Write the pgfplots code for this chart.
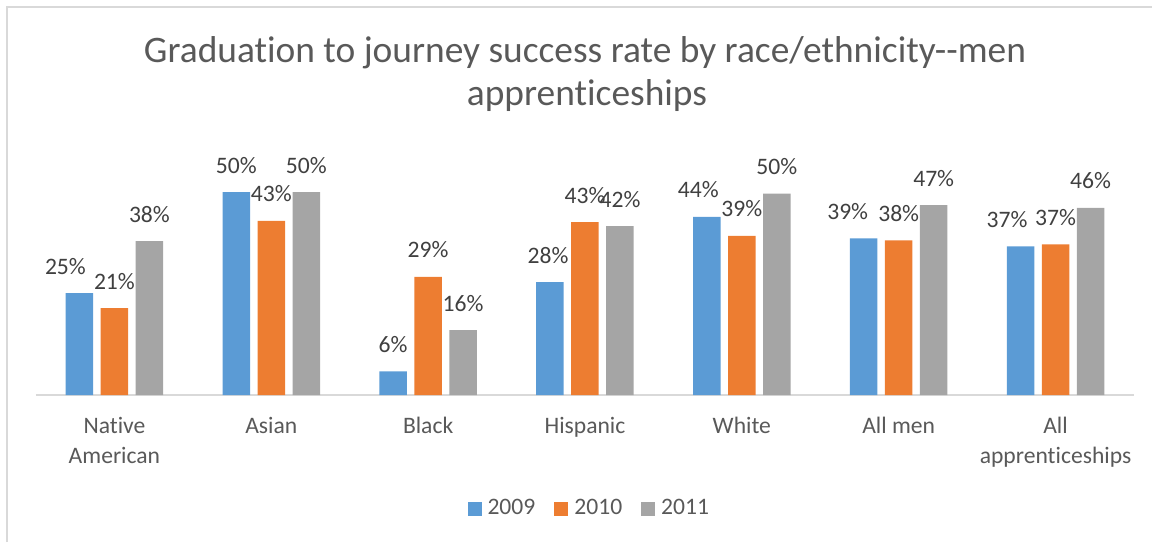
\documentclass[border=0pt]{standalone}
\usepackage{pgfplots}
\pgfplotsset{compat=1.18}
\usepackage{pgfplotstable}
\usepackage{fontspec}
\setmainfont{Carlito}[Ligatures={TeX,NoCommon}]
\definecolor{c09}{HTML}{5B9BD5}
\definecolor{c10}{HTML}{ED7D31}
\definecolor{c11}{HTML}{A5A5A5}
\definecolor{txt}{HTML}{595959}
\definecolor{lbl}{HTML}{404040}
\definecolor{brd}{HTML}{D9D9D9}

\pgfplotstableread{
x y dx
0 25.1 -7
1 50.0 0
2 5.8 0
3 27.8 -1
4 43.9 -4.25
5 38.6 -8
6 36.6 -6.75
}\tA
\pgfplotstableread{
x y
0 21.4
1 42.9
2 29.1
3 42.6
4 39.2
5 38.1
6 37.1
}\tB
\pgfplotstableread{
x y
0 37.9
1 50.0
2 16.0
3 41.6
4 49.6
5 46.8
6 46.1
}\tC

\begin{document}
\begin{tikzpicture}
\path[use as bounding box] (-18pt,-73.5pt) rectangle (558pt,197.5pt);
\draw[brd, line width=0.6pt] (-14.5pt,-73.5pt) -- (-14.5pt,194pt) -- (558pt,194pt);
\node[anchor=base, font=\fontsize{18.7pt}{22pt}\selectfont, text=txt] at (274.5pt,166pt) {Graduation to journey success rate by race/ethnicity-{}-men};
\node[anchor=base, font=\fontsize{18.7pt}{22pt}\selectfont, text=txt] at (275.5pt,144.5pt) {apprenticeships};
\begin{axis}[
  at={(0pt,0pt)}, anchor=south west,
  scale only axis, width=549pt, height=121.8pt,
  xmin=-0.5, xmax=6.5, ymin=0, ymax=60,
  ybar=3.75pt, bar width=13.75pt,
  axis x line*=bottom, axis y line=none,
  x axis line style={draw=brd, line width=0.7pt, -},
  xtick={0,...,6},
  xticklabels={Native\\American, Asian, Black, Hispanic, White, All men, All\\apprenticeships},
  xtick style={draw=none}, major tick length=0pt,
  xticklabel style={align=center, anchor=north, inner sep=0pt, yshift=-11pt,
    font=\fontsize{11.8pt}{15pt}\selectfont, text=txt},
  nodes near coords={\pgfmathprintnumber[fixed,precision=0,assume math mode=true]{\pgfplotspointmeta}\%},
  nodes near coords style={font=\fontsize{11.8pt}{14pt}\selectfont, text=lbl, anchor=base, inner sep=0pt, yshift=9.5pt},
  legend image code/.code={\fill[#1] (0pt,-3.5pt) rectangle (7pt,3.5pt);},
  legend style={at={(0.503,-0.466)}, anchor=center, legend columns=3, draw=none, fill=none,
    font=\fontsize{11.8pt}{14pt}\selectfont, text=txt, nodes={inner sep=0pt},
    /tikz/every odd column/.append style={column sep=3pt},
    /tikz/every even column/.append style={column sep=9.5pt}},
]
\addplot[fill=c09, draw=none, visualization depends on={\thisrow{dx}\as\dx},
  nodes near coords style={xshift=\dx pt}] table[x=x,y=y]{\tA};
\addplot[fill=c10, draw=none] table[x=x,y=y]{\tB};
\addplot[fill=c11, draw=none] table[x=x,y=y]{\tC};
\legend{2009,2010,2011}
\end{axis}
\end{tikzpicture}
\end{document}
